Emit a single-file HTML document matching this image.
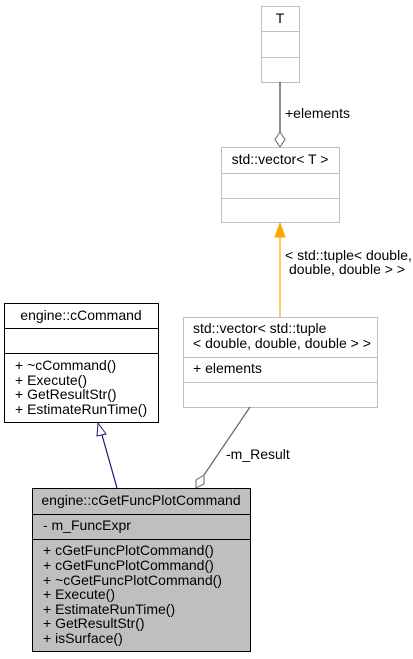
<!DOCTYPE html>
<html><head><meta charset="utf-8"><style>
html,body{margin:0;padding:0;background:#fff;}
svg{display:block;}
text{font-family:"Liberation Sans",Arial,sans-serif;font-size:14px;fill:#000;}
</style></head><body>
<svg width="413" height="659" viewBox="0 0 413 659" xmlns="http://www.w3.org/2000/svg">
<rect x="261.5" y="6.5" width="38" height="76" fill="#fff" stroke="#bfbfbf"/>
<line x1="261.5" y1="31.5" x2="299.5" y2="31.5" stroke="#bfbfbf"/>
<line x1="261.5" y1="57.5" x2="299.5" y2="57.5" stroke="#bfbfbf"/>
<text x="280" y="23" text-anchor="middle">T</text>
<line x1="280" y1="82" x2="280" y2="132" stroke="#666" stroke-width="1.5"/>
<polygon points="280,132 285,139.5 280,147 275,139.5" fill="#fff" stroke="#666"/>
<text x="285" y="118">+elements</text>
<rect x="221.5" y="147.5" width="118" height="75" fill="#fff" stroke="#bfbfbf"/>
<line x1="221.5" y1="173.5" x2="339.5" y2="173.5" stroke="#bfbfbf"/>
<line x1="221.5" y1="198.5" x2="339.5" y2="198.5" stroke="#bfbfbf"/>
<text x="280" y="164" text-anchor="middle">std::vector&lt; T &gt;</text>
<line x1="280" y1="317" x2="280" y2="236" stroke="#ffa500" stroke-width="1.2"/>
<polygon points="280,223 285,237 275,237" fill="#ffa500" stroke="#ffa500"/>
<text x="285" y="260">&lt; std::tuple&lt; double,</text>
<text x="289" y="274">double, double &gt; &gt;</text>
<rect x="4.5" y="303.5" width="154" height="119" fill="#fff" stroke="#000"/>
<line x1="4.5" y1="328.5" x2="158.5" y2="328.5" stroke="#000"/>
<line x1="4.5" y1="353.5" x2="158.5" y2="353.5" stroke="#000"/>
<text x="81" y="320" text-anchor="middle">engine::cCommand</text>
<text x="15" y="370">+ ~cCommand()</text>
<text x="15" y="385">+ Execute()</text>
<text x="15" y="399">+ GetResultStr()</text>
<text x="15" y="414">+ EstimateRunTime()</text>
<rect x="183.5" y="317.5" width="194" height="90" fill="#fff" stroke="#bfbfbf"/>
<line x1="183.5" y1="357.5" x2="377.5" y2="357.5" stroke="#bfbfbf"/>
<line x1="183.5" y1="382.5" x2="377.5" y2="382.5" stroke="#bfbfbf"/>
<text x="193" y="333">std::vector&lt; std::tuple</text>
<text x="193" y="348">&lt; double, double, double &gt; &gt;</text>
<text x="193" y="373">+ elements</text>
<line x1="117" y1="488" x2="102" y2="435" stroke="#191970" stroke-width="1.2"/>
<polygon points="98,423 106,434 97,436" fill="#fff" stroke="#191970"/>
<line x1="250" y1="407" x2="204" y2="475" stroke="#666" stroke-width="1.2"/>
<polygon points="196,488 196,480 204,475 204,484" fill="#fff" stroke="#666"/>
<text x="226" y="459">-m_Result</text>
<rect x="32.5" y="488.5" width="218" height="163" fill="#bfbfbf" stroke="#000"/>
<line x1="32.5" y1="514.5" x2="250.5" y2="514.5" stroke="#000"/>
<line x1="32.5" y1="539.5" x2="250.5" y2="539.5" stroke="#000"/>
<text x="141" y="505" text-anchor="middle">engine::cGetFuncPlotCommand</text>
<text x="43" y="530">- m_FuncExpr</text>
<text x="43" y="555">+ cGetFuncPlotCommand()</text>
<text x="43" y="570">+ cGetFuncPlotCommand()</text>
<text x="43" y="585">+ ~cGetFuncPlotCommand()</text>
<text x="43" y="599">+ Execute()</text>
<text x="43" y="614">+ EstimateRunTime()</text>
<text x="43" y="628">+ GetResultStr()</text>
<text x="43" y="643">+ isSurface()</text>
</svg>
</body></html>
